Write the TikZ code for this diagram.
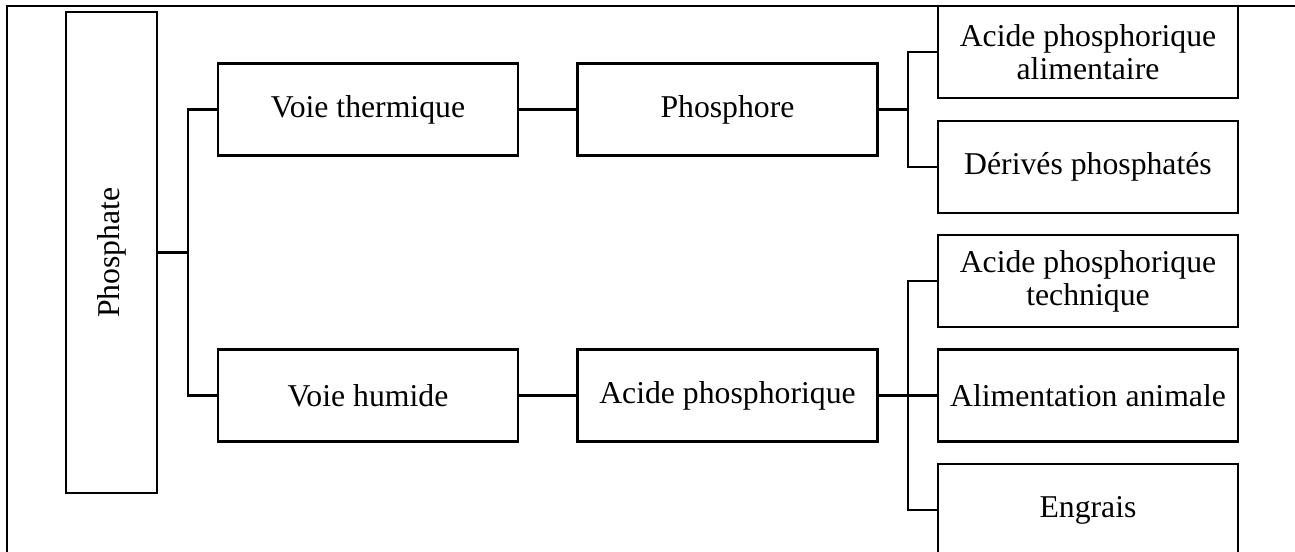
\documentclass[tikz,border=0pt]{standalone}
\usepackage{fontspec}
\setmainfont{Liberation Serif}
\begin{document}
\begin{tikzpicture}[x=0.75pt,y=-0.75pt,
  box/.style={draw,line width=1.7pt,inner sep=0pt,minimum width=225pt,minimum height=69pt,align=center,font=\fontsize{23.8}{24.8}\selectfont},
  link/.style={line width=1.7pt}]
\useasboundingbox (0,0) rectangle (1295,551);
\begin{scope}
\clip (0,0) rectangle (1295,551);
% outer frame (only its top and left edges fall inside the page)
\draw[line width=1.6pt] (7,6) rectangle (1320,580);

\node[box,minimum width=68.25pt,minimum height=360.75pt] (ph) at (111.5,252.5) {};
\node[rotate=90,font=\fontsize{23.8}{25}\selectfont] (phl) at (ph.center) {Phosphate};

\node[box] (vt) at (368,109.5) {Voie thermique};
\node[box] (vh) at (368,395.5) {Voie humide};
\node[box] (p)  at (727.5,109.5) {Phosphore};
\node[box] (ap) at (727.5,395.5) {Acide phosphorique};

\node[box] (l1) at (1088,52) {Acide phosphorique\\alimentaire};
\node[box] (l2) at (1088,167) {Dérivés phosphatés};
\node[box] (l3) at (1088,281) {Acide phosphorique\\technique};
\node[box] (l4) at (1088,395.5) {Alimentation animale};
\node[box] (l5) at (1088,510) {Engrais};

\coordinate (j1) at (188,252.5);
\coordinate (j2) at (908,109.5);
\coordinate (j3) at (908,395.5);

\draw[link] (ph.east) -- (j1);
\draw[link] (vt.west) -| (j1) |- (vh.west);
\draw[link] (vt.east) -- (p.west);
\draw[link] (vh.east) -- (ap.west);
\draw[link] (p.east) -- (j2);
\draw[link] (l1.west) -| (j2) |- (l2.west);
\draw[link] (ap.east) -- (l4.west);
\draw[link] (l3.west) -| (j3) |- (l5.west);
\end{scope}
\end{tikzpicture}
\end{document}
